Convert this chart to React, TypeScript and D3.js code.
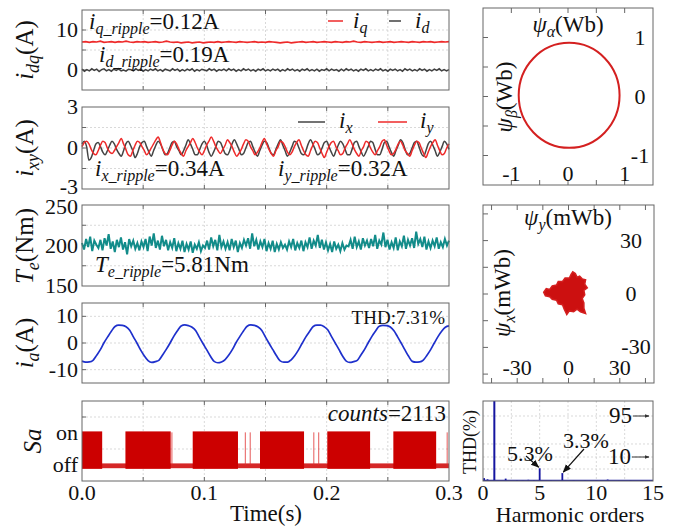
import React from "react";
import * as d3 from "d3";

// ---------------- data ----------------
const timeTicks = [0, 0.1, 0.2, 0.3];
const timeGrid = [0.05, 0.1, 0.15, 0.2, 0.25];

const iqValues = [
  7.0, 7.1, 6.9, 7.1, 7.0, 7.2, 6.9, 7.0, 7.1, 6.9, 7.1, 7.0, 7.2, 7.0, 6.9, 7.1, 7.0, 7.1, 6.9, 7.0,
  7.1, 6.9, 7.0, 7.2, 7.0, 6.9, 7.0, 6.8, 6.9, 7.0, 6.8, 6.9, 7.0, 6.8, 6.9, 7.0, 6.9, 7.1, 6.9, 7.0,
  7.1, 7.0, 6.9, 7.1, 7.0, 6.9, 7.0, 7.1, 6.9, 7.0, 6.9, 7.1, 7.0, 6.9, 6.8, 6.9, 7.0, 6.8, 6.9, 7.0,
  7.1, 6.9, 7.0, 7.1, 6.9, 7.0, 7.1, 7.0, 6.9, 7.1, 7.0, 6.9, 7.1, 7.0, 7.2, 7.0, 6.9, 7.1, 7.0, 6.9,
  7.0, 7.1, 6.9, 7.0, 7.1, 6.9, 7.0, 7.1, 7.0, 6.9, 7.1, 7.0, 6.9, 7.1, 7.0, 7.1, 6.9, 7.0, 7.1, 7.0, 7.1,
];
const idValues = [
  0.2, -0.3, 0.1, -0.2, 0.3, -0.1, 0.2, -0.4, 0.1, 0.3, -0.2, 0.1, -0.3, 0.2, -0.1, 0.3, -0.2, 0.0, -0.3, 0.2,
  0.1, -0.2, 0.3, -0.1, 0.2, -0.3, 0.1, -0.2, 0.2, -0.1, 0.3, -0.2, 0.1, -0.3, 0.2, 0.0, -0.2, 0.3, -0.1, 0.2,
  -0.3, 0.1, -0.2, 0.2, -0.1, 0.3, -0.3, 0.1, -0.2, 0.2, 0.0, -0.2, 0.3, -0.1, 0.2, -0.3, 0.1, -0.1, 0.2, -0.2,
  0.3, -0.1, 0.2, -0.3, 0.1, -0.2, 0.3, -0.1, 0.2, -0.2, 0.1, -0.3, 0.2, -0.1, 0.3, -0.2, 0.1, -0.2, 0.2, -0.1,
  0.2, -0.3, 0.1, -0.2, 0.3, -0.1, 0.2, -0.2, 0.1, -0.3, 0.2, -0.1, 0.3, -0.2, 0.1, -0.2, 0.2, -0.3, 0.1, -0.1,
  0.3, -0.2, 0.2, -0.1, 0.1, -0.3, 0.2, -0.2, 0.3, -0.1, 0.2, -0.2, 0.1, -0.3, 0.2, -0.1, 0.3, -0.2, 0.1, -0.2,
  0.2, -0.1, 0.3, -0.2, 0.1, -0.3, 0.2, -0.1, 0.2, -0.2, 0.1, -0.3, 0.3, -0.1, 0.2, -0.2, 0.1, -0.2, 0.3, -0.1,
  0.2, -0.3, 0.1, -0.2, 0.2, -0.1, 0.3, -0.2, 0.1, -0.2, 0.1,
];

const ixValues = [
  0.3, 0.5, 0.1, -0.9, -0.7, -0.2, 0.3, 0.4, 0.1, -0.3, -0.5, -0.2, 0.2, 0.5, 0.3, -0.1,
  -0.4, -0.6, -0.2, 0.3, 0.5, 0.2, -0.2, -0.7, -0.4, 0.1, 0.4, 0.5, 0.1, -0.3, -0.6, -0.2,
  0.2, 0.5, 0.3, -0.1, -0.5, -0.4, 0.0, 0.4, 0.5, 0.1, -0.2, -0.5, -0.2, 0.2, 0.6, 0.3,
  -0.1, -0.5, -0.5, -0.1, 0.3, 0.5, 0.2, -0.3, -0.6, -0.3, 0.1, 0.5, 0.4, 0.0, -0.4, -0.5,
  -0.2, 0.3, 0.6, 0.3, -0.1, -0.5, -0.4, 0.0, 0.4, 0.5, 0.1, -0.3, -0.6, -0.2, 0.2, 0.5,
  0.4, 0.0, -0.4, -0.5, -0.1, 0.3, 0.6, 0.2, -0.2, -0.6, -0.3, 0.1, 0.5, 0.4, 0.0, -0.4,
  -0.5, -0.2, 0.3, 0.6, 0.3, -0.1, -0.5, -0.4, 0.0, 0.4, 0.5, 0.1, -0.3, -0.6, -0.2, 0.2,
  0.5, 0.3, -0.1, -0.5, -0.5, -0.1, 0.4, 0.5, 0.1, -0.3, -0.6, -0.3, 0.1, 0.5, 0.4, -0.1,
  -0.5, -0.5, -0.1, 0.4, 0.5, 0.1, -0.3, -0.6, -0.2, 0.2, 0.6, 0.4, -0.1, -0.5, -0.4, 0.0,
  0.4, 0.5, 0.1, -0.4, -0.6, -0.2, 0.3, 0.5, 0.2, -0.2, -0.6, -0.3, 0.1, 0.5, 0.3, -0.1,
];
const iyValues = [
  0.1, 0.4, 0.5, 0.3, -0.1, -0.4, -0.5, -0.2, 0.2, 0.5, 0.4, 0.0, -0.3, -0.4, -0.2, 0.1,
  0.4, 0.7, 0.3, -0.1, -0.5, -0.6, -0.2, 0.2, 0.5, 0.4, 0.1, -0.2, -0.5, -0.3, 0.0, 0.3,
  0.6, 0.8, 0.4, -0.1, -0.4, -0.5, -0.2, 0.2, 0.5, 0.3, -0.1, -0.4, -0.6, -0.2, 0.1, 0.4,
  0.7, 0.4, 0.0, -0.3, -0.5, -0.2, 0.2, 0.5, 0.8, 0.5, 0.1, -0.2, -0.4, -0.1, 0.2, 0.6,
  0.4, 0.1, -0.3, -0.6, -0.4, -0.1, 0.3, 0.6, 0.5, 0.1, -0.2, -0.5, -0.3, 0.0, 0.4, 0.7,
  0.3, -0.1, -0.4, -0.6, -0.2, 0.1, 0.5, 0.4, 0.1, -0.3, -0.5, -0.3, 0.1, 0.4, 0.6, 0.2,
  -0.2, -0.5, -0.6, -0.2, 0.2, 0.5, 0.4, 0.0, -0.4, -0.7, -0.3, 0.1, 0.4, 0.5, 0.1, -0.2,
  -0.5, -0.4, 0.0, 0.3, 0.6, 0.3, -0.1, -0.4, -0.6, -0.2, 0.1, 0.5, 0.4, 0.0, -0.3, -0.5,
  -0.2, 0.1, 0.5, 0.6, 0.2, -0.2, -0.5, -0.4, -0.1, 0.3, 0.5, 0.2, -0.2, -0.4, -0.6, -0.2,
  0.2, 0.5, 0.4, 0.0, -0.4, -0.7, -0.3, 0.1, 0.4, 0.6, 0.2, -0.2, -0.5, -0.4, 0.0, 0.3,
];

const teValues = [
  203, 195, 208, 198, 211, 193, 206, 201, 197, 207, 194, 209, 200, 214, 196, 205, 192, 207, 198, 210,
  195, 204, 189, 208, 199, 206, 196, 203, 194, 205, 198, 208, 193, 211, 200, 215, 197, 206, 195, 212,
  199, 207, 194, 204, 197, 209, 193, 203, 196, 206, 192, 202, 195, 205, 191, 201, 196, 204, 193, 200,
  197, 206, 195, 210, 199, 207, 194, 213, 198, 205, 196, 204, 194, 208, 198, 206, 192, 203, 197, 207,
  200, 209, 196, 215, 199, 207, 195, 205, 198, 208, 193, 203, 196, 206, 192, 202, 195, 204, 197, 201,
  195, 205, 198, 208, 194, 203, 197, 206, 193, 204, 198, 210, 196, 206, 200, 213, 197, 207, 195, 204,
  194, 202, 192, 205, 196, 201, 193, 203, 195, 200, 199, 207, 196, 211, 198, 205, 195, 209, 200, 206,
  197, 208, 199, 213, 196, 206, 201, 216, 198, 207, 195, 204, 197, 210, 194, 205, 199, 212, 196, 207,
  200, 209, 197, 217, 202, 208, 198, 211, 195, 205, 197, 206, 199, 210, 196, 204, 198, 208, 200, 206,
];

const iaValues = [
  -6.8, -7.2, -7.1, -6.5, -4.6, -2.5, 0.1, 2.3, 4.4, 6.2, 6.7, 6.6, 6.1, 4.8, 2.3, -0.1, -2.7, -4.9,
  -6.6, -7.3, -7.0, -6.4, -4.4, -2.3, 0.0, 2.5, 4.6, 6.4, 6.8, 6.5, 5.9, 4.6, 2.1, -0.3, -2.6, -5.0,
  -6.9, -7.4, -7.1, -6.2, -4.5, -2.4, 0.2, 2.4, 4.5, 6.3, 6.8, 6.6, 6.0, 4.7, 2.2, -0.2, -2.5, -4.8,
  -6.7, -7.2, -7.2, -6.3, -4.7, -2.6, -0.1, 2.3, 4.3, 6.2, 6.7, 6.7, 6.1, 4.9, 2.4, 0.0, -2.4, -4.9,
  -6.8, -7.3, -7.0, -6.5, -4.5, -2.4, 0.1, 2.5, 4.5, 6.3, 6.6, 6.5, 6.0, 4.6, 2.3, -0.1, -2.6, -5.0,
  -6.9, -7.2, -7.1, -6.4, -4.6, -2.5, 0.0, 2.4, 4.4, 5.9, 6.4,
];

// switching intervals of Sa (dense PWM) and isolated pulses
const saBlocks = [
  [0, 0.0165], [0.0355, 0.0725], [0.0905, 0.1275], [0.1455, 0.1815], [0.2005, 0.2355], [0.2545, 0.2895],
];
const saSpikes = [0.0735, 0.1335, 0.1375, 0.1895, 0.1935, 0.2985];

// stator flux alpha-beta (Wb)
const fluxCenter = [0.02, 0.02];
const fluxRadius = 0.89;
const abTicks = [-1, 0, 1];

// harmonic-plane flux trajectory outline (mWb)
const fluxXY = [
  [-14.5, 1], [-13, 3], [-11, 2.5], [-9.5, 4.5], [-7, 5], [-6, 7], [-3.5, 7], [-2, 9], [0.5, 9],
  [1.5, 11], [2.5, 12.5], [4, 11.5], [5, 9.5], [6.5, 10], [8, 8.5], [10, 8], [9.5, 5.5], [11, 3.5],
  [9, 2], [9.5, -0.5], [8, -2.5], [9, -5], [9, -8], [10, -11], [7, -10], [5, -8.5], [3, -10],
  [0.5, -9.5], [-1, -11.5], [-2.5, -8.5], [-3.5, -6], [-6, -5.5], [-7, -3.5], [-9.5, -3], [-11, -1.5], [-13.5, -1],
];
const xyTicks = [-30, 0, 30];

// spectrum of ia (% of fundamental)
const harmOrders = [0.1, 0.4, 1, 2, 3, 3.5, 4, 4.5, 5, 6, 7, 8, 9, 10, 11, 12, 13, 14];
const harmValues = [1.2, 0.7, 100, 1.0, 0.4, 0.3, 0.5, 0.4, 5.3, 0.3, 3.3, 0.3, 0.3, 0.3, 0.6, 0.2, 0.3, 0.2];
const harmTicks = [0, 5, 10, 15];

// ---------------- scales ----------------
const L = 82, R = 449;
const xT = d3.scaleLinear().domain([0, 0.3]).range([L, R]);
const yDq = d3.scaleLinear().domain([-5, 15]).range([90, 10]);
const yXy = d3.scaleLinear().domain([-3, 3]).range([189, 107]);
const yTe = d3.scaleLinear().domain([150, 250]).range([286, 205]);
const yIa = d3.scaleLinear().domain([-15, 15]).range([383, 303]);
const ySa = d3.scaleLinear().domain([-0.5, 2]).range([481, 401]);

const xAB = d3.scaleLinear().domain([-1.5, 1.5]).range([483, 653]);
const yAB = d3.scaleLinear().domain([-1.5, 1.5]).range([185, 8]);
const xXY = d3.scaleLinear().domain([-50, 50]).range([483, 654]);
const yXY = d3.scaleLinear().domain([-50, 50]).range([383, 205]);
const xH = d3.scaleLinear().domain([0, 15]).range([483, 653]);
// broken axis: 0-10 % at the bottom, 95-100 % at the top
const yH = d3.scaleLinear().domain([0, 10, 95, 100]).range([481, 457, 416, 401]);

const series = (vals: number[], y: d3.ScaleLinear<number, number>, curve: any = d3.curveLinear) =>
  d3.line<number>()
    .x((_, i) => xT((i * 0.3) / (vals.length - 1)))
    .y((d) => y(d))
    .curve(curve)(vals) || "";

const GRID = { stroke: "#cfcfcf", strokeWidth: 0.8, strokeDasharray: "2,2" };
const FRAME = { fill: "none", stroke: "#666", strokeWidth: 1 };

function LeftPanel({ y, grid, ticks, labels, nudge }: any) {
  const [y1, y0] = y.range();
  return (
    <g>
      {timeGrid.map((t) => (
        <line key={"v" + t} x1={xT(t)} x2={xT(t)} y1={y0} y2={y1} {...GRID} />
      ))}
      {grid.map((v: number) => (
        <line key={"h" + v} x1={L} x2={R} y1={y(v)} y2={y(v)} {...GRID} />
      ))}
      {timeGrid.map((t) => (
        <g key={"t" + t}>
          <line x1={xT(t)} x2={xT(t)} y1={y1} y2={y1 - 4} stroke="#666" />
          <line x1={xT(t)} x2={xT(t)} y1={y0} y2={y0 + 4} stroke="#666" />
        </g>
      ))}
      {grid.map((v: number) => (
        <line key={"k" + v} x1={L} x2={L + 4} y1={y(v)} y2={y(v)} stroke="#666" />
      ))}
      {ticks.map((v: number, i: number) => (
        <text key={"l" + v} x={78} y={y(v) + 7 + (nudge ? nudge[i] : 0)} textAnchor="end" fontSize={22}>
          {labels ? labels[i] : v}
        </text>
      ))}
    </g>
  );
}

export default function App() {
  const arrowHead = "url(#ah)";
  return (
    <svg width={680} height={529} style={{ position: "absolute", left: 0, top: 0, background: "#fff" }}>
      <style>{`text, tspan { font-family: "Liberation Serif", "Times New Roman", serif; fill: #111; }`}</style>
      <defs>
        <marker id="ah" viewBox="0 0 10 10" refX={9} refY={5} markerWidth={7} markerHeight={7} orient="auto">
          <path d="M0,1L10,5L0,9z" fill="#111" />
        </marker>
        <marker id="ah2" viewBox="0 0 10 10" refX={9} refY={5} markerWidth={5} markerHeight={5} orient="auto">
          <path d="M0,1L10,5L0,9z" fill="#333" />
        </marker>
      </defs>

      {/* ---------- idq ---------- */}
      <LeftPanel y={yDq} grid={[0, 5, 10]} ticks={[0, 10]} />
      <path d={series(idValues, yDq)} fill="none" stroke="#404040" strokeWidth={1.5} />
      <path d={series(iqValues, yDq)} fill="none" stroke="#ee2a2a" strokeWidth={1.7} />
      <rect x={L} y={10} width={R - L} height={80} {...FRAME} />
      <text x={89} y={29} fontSize={23}>
        <tspan fontStyle="italic">i</tspan>
        <tspan fontStyle="italic" fontSize={16} dy={5}>q_ripple</tspan>
        <tspan dy={-5}>=0.12A</tspan>
      </text>
      <text x={99} y={62} fontSize={23}>
        <tspan fontStyle="italic">i</tspan>
        <tspan fontStyle="italic" fontSize={16} dy={5}>d_ripple</tspan>
        <tspan dy={-5}>=0.19A</tspan>
      </text>
      <line x1={328} x2={343} y1={21} y2={21} stroke="#ee2a2a" strokeWidth={1.5} />
      <text x={353} y={28} fontSize={23}>
        <tspan fontStyle="italic">i</tspan>
        <tspan fontStyle="italic" fontSize={16} dy={5}>q</tspan>
      </text>
      <line x1={389} x2={401} y1={21} y2={21} stroke="#404040" strokeWidth={1.5} />
      <text x={415} y={28} fontSize={23}>
        <tspan fontStyle="italic">i</tspan>
        <tspan fontStyle="italic" fontSize={16} dy={5}>d</tspan>
      </text>
      <text transform="translate(33,50) rotate(-90)" textAnchor="middle" fontSize={25}>
        <tspan fontStyle="italic">i</tspan>
        <tspan fontStyle="italic" fontSize={18} dy={6}>dq</tspan>
        <tspan dy={-6}>(A)</tspan>
      </text>

      {/* ---------- ixy ---------- */}
      <LeftPanel y={yXy} grid={[-1.5, 0, 1.5]} ticks={[3, 0, -3]} nudge={[0, 0, -2]} />
      <path d={series(ixValues, yXy, d3.curveMonotoneX)} fill="none" stroke="#444" strokeWidth={1.5} />
      <path d={series(iyValues, yXy, d3.curveMonotoneX)} fill="none" stroke="#ee2a2a" strokeWidth={1.5} />
      <rect x={L} y={107} width={R - L} height={82} {...FRAME} />
      <line x1={298} x2={325} y1={122} y2={122} stroke="#444" strokeWidth={1.5} />
      <text x={339} y={128} fontSize={23}>
        <tspan fontStyle="italic">i</tspan>
        <tspan fontStyle="italic" fontSize={16} dy={5}>x</tspan>
      </text>
      <line x1={378} x2={407} y1={122} y2={122} stroke="#ee2a2a" strokeWidth={1.5} />
      <text x={420} y={128} fontSize={23}>
        <tspan fontStyle="italic">i</tspan>
        <tspan fontStyle="italic" fontSize={16} dy={5}>y</tspan>
      </text>
      <text x={95} y={176} fontSize={23}>
        <tspan fontStyle="italic">i</tspan>
        <tspan fontStyle="italic" fontSize={16} dy={5}>x_ripple</tspan>
        <tspan dy={-5}>=0.34A</tspan>
      </text>
      <text x={278} y={176} fontSize={23}>
        <tspan fontStyle="italic">i</tspan>
        <tspan fontStyle="italic" fontSize={16} dy={5}>y_ripple</tspan>
        <tspan dy={-5}>=0.32A</tspan>
      </text>
      <text transform="translate(33,148) rotate(-90)" textAnchor="middle" fontSize={25}>
        <tspan fontStyle="italic">i</tspan>
        <tspan fontStyle="italic" fontSize={18} dy={6}>xy</tspan>
        <tspan dy={-6}>(A)</tspan>
      </text>

      {/* ---------- Te ---------- */}
      <LeftPanel y={yTe} grid={[175, 200, 225]} ticks={[250, 200, 150]} nudge={[2, 0, 0]} />
      <path d={series(teValues, yTe)} fill="none" stroke="#128c8a" strokeWidth={2} />
      <rect x={L} y={205} width={R - L} height={81} {...FRAME} />
      <text x={95} y={272} fontSize={23}>
        <tspan fontStyle="italic">T</tspan>
        <tspan fontStyle="italic" fontSize={16} dy={5}>e_ripple</tspan>
        <tspan dy={-5}>=5.81Nm</tspan>
      </text>
      <text transform="translate(33,246) rotate(-90)" textAnchor="middle" fontSize={25}>
        <tspan fontStyle="italic">T</tspan>
        <tspan fontStyle="italic" fontSize={18} dy={6}>e</tspan>
        <tspan dy={-6}>(Nm)</tspan>
      </text>

      {/* ---------- ia ---------- */}
      <LeftPanel y={yIa} grid={[-10, 0, 10]} ticks={[10, 0, -10]} />
      <path d={series(iaValues, yIa, d3.curveMonotoneX)} fill="none" stroke="#1e30cc" strokeWidth={1.7} />
      <rect x={L} y={303} width={R - L} height={80} {...FRAME} />
      <text x={445} y={324} textAnchor="end" fontSize={19}>THD:7.31%</text>
      <text transform="translate(33,343) rotate(-90)" textAnchor="middle" fontSize={25}>
        <tspan fontStyle="italic">i</tspan>
        <tspan fontStyle="italic" fontSize={18} dy={6}>a</tspan>
        <tspan dy={-6}>(A)</tspan>
      </text>

      {/* ---------- Sa ---------- */}
      <LeftPanel y={ySa} grid={[0.5, 1.5]} ticks={[1, 0]} labels={["on", "off"]} />
      <rect x={L} y={ySa(0.05)} width={R - L} height={ySa(-0.1) - ySa(0.05)} fill="#d01010" opacity={0.9} />
      {saBlocks.map(([a, b]) => (
        <rect key={a} x={xT(a)} y={ySa(1.05)} width={xT(b) - xT(a)} height={ySa(-0.12) - ySa(1.05)} fill="#cc0000" />
      ))}
      {saSpikes.map((t) => (
        <line key={t} x1={xT(t)} x2={xT(t)} y1={ySa(0)} y2={ySa(1.02)} stroke="#e03030" strokeWidth={0.8} />
      ))}
      <rect x={L} y={401} width={R - L} height={80} {...FRAME} />
      <text x={446} y={421} textAnchor="end" fontSize={23}>
        <tspan fontStyle="italic">counts</tspan>=2113
      </text>
      <text transform="translate(41,441) rotate(-90)" textAnchor="middle" fontSize={25} fontStyle="italic">Sa</text>
      {timeTicks.map((t) => (
        <text key={t} x={xT(t)} y={500} textAnchor="middle" fontSize={22}>{t.toFixed(1)}</text>
      ))}
      <text x={266} y={521} textAnchor="middle" fontSize={23}>Time(s)</text>

      {/* ---------- flux alpha-beta ---------- */}
      {[-1, -0.5, 0, 0.5, 1].map((v) => (
        <g key={v}>
          <line x1={483} x2={488} y1={yAB(v)} y2={yAB(v)} stroke="#666" />
          <line x1={xAB(v)} x2={xAB(v)} y1={185} y2={180} stroke="#666" />
          <line x1={xAB(v)} x2={xAB(v)} y1={8} y2={13} stroke="#666" />
        </g>
      ))}
      <ellipse
        cx={xAB(fluxCenter[0])}
        cy={yAB(fluxCenter[1])}
        rx={xAB(fluxRadius) - xAB(0)}
        ry={yAB(0) - yAB(fluxRadius)}
        fill="none"
        stroke="#d42020"
        strokeWidth={2}
      />
      <rect x={483} y={8} width={170} height={177} {...FRAME} />
      {abTicks.map((v) => (
        <text key={"y" + v} x={640} y={yAB(v) + 7} textAnchor="middle" fontSize={22}>{v}</text>
      ))}
      {abTicks.map((v) => (
        <text key={"x" + v} x={xAB(v)} y={181} textAnchor="middle" fontSize={22}>{v}</text>
      ))}
      <text x={568} y={32} textAnchor="middle" fontSize={23}>
        <tspan fontStyle="italic">ψ</tspan>
        <tspan fontStyle="italic" fontSize={16} dy={5}>α</tspan>
        <tspan dy={-5}>(Wb)</tspan>
      </text>
      <text transform="translate(512,97) rotate(-90)" textAnchor="middle" fontSize={23}>
        <tspan fontStyle="italic">ψ</tspan>
        <tspan fontStyle="italic" fontSize={16} dy={5}>β</tspan>
        <tspan dy={-5}>(Wb)</tspan>
      </text>

      {/* ---------- flux x-y ---------- */}
      {[-45, -30, -15, 0, 15, 30, 45].map((v) => (
        <g key={v}>
          <line x1={483} x2={488} y1={yXY(v)} y2={yXY(v)} stroke="#666" />
          <line x1={xXY(v)} x2={xXY(v)} y1={383} y2={378} stroke="#666" />
          <line x1={xXY(v)} x2={xXY(v)} y1={205} y2={210} stroke="#666" />
        </g>
      ))}
      <path
        d={(d3.line().x((d) => xXY(d[0])).y((d) => yXY(d[1])).curve(d3.curveLinearClosed)(fluxXY as [number, number][])) || ""}
        fill="#cc1010"
        stroke="#d42020"
        strokeWidth={1.5}
      />
      <rect x={483} y={205} width={171} height={178} {...FRAME} />
      {xyTicks.map((v) => (
        <text key={"y" + v} x={v < 0 ? 636 : 631} y={yXY(v) + 7} textAnchor="middle" fontSize={22}>{v}</text>
      ))}
      {xyTicks.map((v) => (
        <text key={"x" + v} x={xXY(v)} y={375} textAnchor="middle" fontSize={22}>{v}</text>
      ))}
      <text x={568} y={225} textAnchor="middle" fontSize={23}>
        <tspan fontStyle="italic">ψ</tspan>
        <tspan fontStyle="italic" fontSize={16} dy={5}>y</tspan>
        <tspan dy={-5}>(mWb)</tspan>
      </text>
      <text transform="translate(510,293) rotate(-90)" textAnchor="middle" fontSize={23}>
        <tspan fontStyle="italic">ψ</tspan>
        <tspan fontStyle="italic" fontSize={16} dy={5}>x</tspan>
        <tspan dy={-5}>(mWb)</tspan>
      </text>

      {/* ---------- spectrum ---------- */}
      {[2.5, 5, 7.5, 10, 12.5].map((v) => (
        <line key={"v" + v} x1={xH(v)} x2={xH(v)} y1={401} y2={481} {...GRID} />
      ))}
      {[5, 10, 37, 95].map((v) => (
        <line key={"h" + v} x1={483} x2={653} y1={yH(v)} y2={yH(v)} {...GRID} />
      ))}
      <line x1={483} x2={653} y1={yH(0.25)} y2={yH(0.25)} stroke="#2020a0" strokeWidth={1.2} />
      {harmOrders.map((h, i) => (
        <line key={h} x1={xH(h)} x2={xH(h)} y1={yH(0)} y2={yH(harmValues[i])} stroke="#1515a0" strokeWidth={h === 1 ? 2 : 1.8} />
      ))}
      <rect x={483} y={401} width={170} height={80} {...FRAME} />
      <text x={530} y={461} textAnchor="middle" fontSize={22}>5.3%</text>
      <line x1={526} y1={456} x2={xH(5) - 1} y2={yH(5.3) - 1} stroke="#111" strokeWidth={1.2} markerEnd={arrowHead} />
      <text x={586} y={448} textAnchor="middle" fontSize={22}>3.3%</text>
      <line x1={584} y1={449} x2={xH(7) + 1} y2={yH(3.3) - 1} stroke="#111" strokeWidth={1.2} markerEnd={arrowHead} />
      <text x={632} y={yH(95) + 7} textAnchor="end" fontSize={23}>95</text>
      <line x1={633} y1={yH(95)} x2={649} y2={yH(95)} stroke="#333" strokeWidth={1} markerEnd="url(#ah2)" />
      <text x={631} y={yH(10) + 7} textAnchor="end" fontSize={23}>10</text>
      <line x1={632} y1={yH(10)} x2={649} y2={yH(10)} stroke="#333" strokeWidth={1} markerEnd="url(#ah2)" />
      {harmTicks.map((v) => (
        <text key={v} x={xH(v)} y={500} textAnchor="middle" fontSize={22}>{v}</text>
      ))}
      <text x={570} y={522} textAnchor="middle" fontSize={22}>Harmonic orders</text>
      <text transform="translate(476,442) rotate(-90)" textAnchor="middle" fontSize={18}>THD(%)</text>
    </svg>
  );
}
